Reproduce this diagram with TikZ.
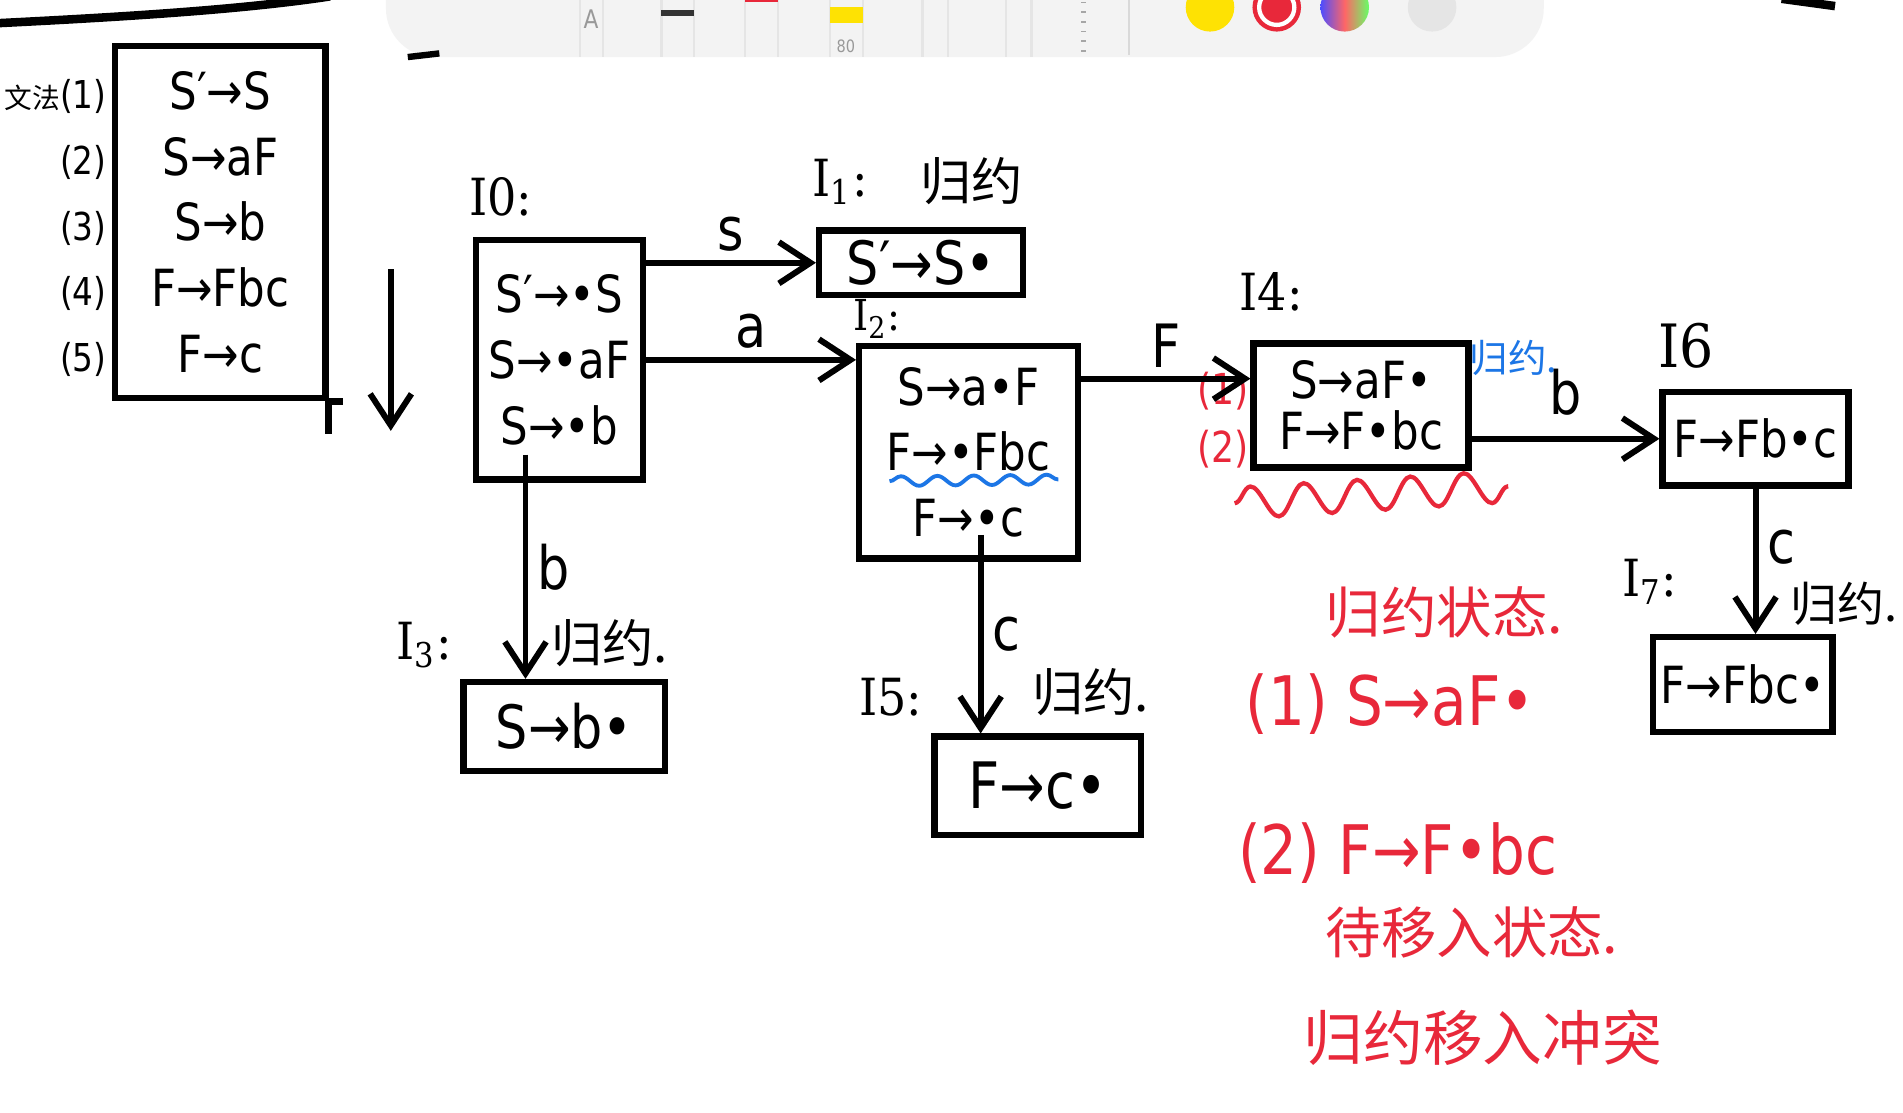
\documentclass[tikz,border=0pt]{standalone}
\usepackage{fontspec}
\setmainfont{DejaVu Sans}[FakeStretch=0.85]
\newfontfamily\cjk{Noto Sans CJK SC}
\newfontfamily\lblfont{DejaVu Serif}[FakeStretch=0.9]
\usetikzlibrary{arrows.meta, positioning, decorations.pathmorphing}
\definecolor{inkred}{RGB}{232,40,58}
\definecolor{inkblue}{RGB}{28,118,230}
\definecolor{barbg}{RGB}{243,243,243}

\begin{document}
\begin{tikzpicture}[x=0.01cm, y=-0.01cm,
    state/.style={draw, line width=1.5pt, inner sep=0pt, align=center, font=\fontsize{12}{15.4}\selectfont},
    lbl/.style={inner sep=1pt, font=\lblfont\fontsize{12}{14}\selectfont},
    note/.style={inner sep=1pt, font=\cjk\fontsize{12}{14}\selectfont},
    redf/.style={inner sep=1pt, text=inkred, font=\fontsize{16}{18}\selectfont},
    sym/.style={inner sep=2pt, font=\fontsize{14}{16}\selectfont},
    arrow/.style={-{Straight Barb[length=2.6mm, width=3.4mm]}, line width=1.4pt}]

    \useasboundingbox (0,0) rectangle (1568,917);
    \fill[white] (0,0) rectangle (1568,917);

    % toolbar of the drawing app
    \fill[barbg, rounded corners=4mm] (318,-40) rectangle (1272,47);
    \foreach \px in {478,497,545,572,614,641,684,711,760,781,829,850}
      \draw[black!10, line width=0.6pt] (\px,-5) -- (\px,47);
    \draw[black!15] (930,-5) -- (930,45);
    \fill[black!80] (545,8) rectangle (572,13);
    \fill[inkred] (614,-5) rectangle (641,2);
    \fill[yellow!85!orange] (684,6) rectangle (711,19);
    \node[font=\fontsize{6}{7}\selectfont, text=black!40] (penA) at (487,16) {A};
    \node[font=\fontsize{4}{5}\selectfont, text=black!40] (pen80) at (697,38) {80};
    \foreach \ty in {2,10,...,42}
      \draw[black!35] (891,\ty) -- (895,\ty);
    \fill[yellow!85!orange] (997,6) circle (2mm);
    \fill[inkred] (1052,6) circle (2mm);
    \draw[white, line width=1pt] (1052,6) circle (1.45mm);
    \shade[left color=blue!70, right color=green!60, middle color=red!60] (1108,6) circle (2mm);
    \fill[black!10] (1180,6) circle (2mm);

    % strokes cut by the page edge
    \draw[line width=2pt] (0,19) .. controls (100,14) and (200,8) .. (272,-3);
    \draw[line width=2pt] (1468,-1) -- (1512,5);
    \draw[line width=1.5pt] (336,47) -- (362,44);

    % grammar
    \node[state, minimum width=1.73cm, minimum height=2.9cm] (gram) at (181.5,183) {S′→S\\S→aF\\S→b\\F→Fbc\\F→c};
    \node[anchor=east, align=right, inner sep=0pt, font=\fontsize{9}{15.4}\selectfont] (nums) at ([xshift=-0.4mm,yshift=-0.5mm]gram.west)
      {{\cjk\fontsize{6.5}{8}\selectfont 文法}(1)\\(2)\\(3)\\(4)\\(5)};
    \draw[line width=1.5pt] (gram.south east) -- ([yshift=-2.7mm]gram.south east);
    \draw[line width=1.5pt] (gram.south east) -- ([xshift=1.2mm]gram.south east);

    \coordinate (dtop) at (322,222);
    \coordinate (dbot) at (322,355);
    \draw[arrow] (dtop) -- (dbot);

    % item sets
    \node[state, minimum width=1.38cm, minimum height=1.97cm] (I0) at (461,296.5) {S′→•S\\S→•aF\\S→•b};
    \node[state, minimum width=1.68cm, minimum height=0.53cm, font=\fontsize{14}{16}\selectfont] (I1) at (759,216.5) {S′→S•};
    \node[state, minimum width=1.8cm, minimum height=1.75cm] (I2) at (798,372.5) {S→a•F\\F→•Fbc\\F→•c};
    \node[state, minimum width=1.66cm, minimum height=0.73cm, font=\fontsize{14}{16}\selectfont] (I3) at (465,598.5) {S→b•};
    \node[state, minimum width=1.77cm, minimum height=1.02cm] (I4) at (1121.5,334) {S→aF•\\[-3.4pt]F→F•bc};
    \node[state, minimum width=1.7cm, minimum height=0.81cm, font=\fontsize{15}{17}\selectfont] (I5) at (855,647.5) {F→c•};
    \node[state, minimum width=1.53cm, minimum height=0.77cm, font=\fontsize{12}{15}\selectfont] (I6) at (1446.5,361.5) {F→Fb•c};
    \node[state, minimum width=1.48cm, minimum height=0.78cm, font=\fontsize{12}{15}\selectfont] (I7) at (1436,564) {F→Fbc•};

    \node[lbl, anchor=south west] (t0) at ([xshift=-0.7mm, yshift=1.3mm]I0.north west) {I0:};
    \node[lbl, anchor=south west] (t1) at ([xshift=-0.7mm, yshift=1.5mm]I1.north west) {I\textsubscript{1}:};
    \node[note, right=3.5mm of t1] (r1) {归约};
    \node[lbl, anchor=south west, inner sep=0pt, font=\lblfont\fontsize{10}{12}\selectfont] (t2) at ([xshift=-0.3mm, yshift=0.3mm]I2.north west) {I\textsubscript{2}:};
    \node[lbl, anchor=south east] (t3) at ([xshift=-0.3mm, yshift=0.5mm]I3.north west) {I\textsubscript{3}:};
    \node[note, anchor=south east] (r3) at ([xshift=0.4mm, yshift=0.6mm]I3.north east) {归约.};
    \node[lbl, anchor=south west] (t4) at ([xshift=-1.3mm, yshift=2mm]I4.north west) {I4:};
    \node[note, text=inkblue, anchor=west, font=\cjk\fontsize{9}{10}\selectfont] (r4) at ([xshift=-0.6mm, yshift=-1.5mm]I4.north east) {归约.};
    \node[redf, anchor=east, font=\fontsize{10}{12}\selectfont] (m1) at ([xshift=0.3mm, yshift=1.2mm]I4.west) {(1)};
    \node[redf, anchor=east, font=\fontsize{10}{12}\selectfont] (m2) at ([xshift=0.3mm, yshift=-3.6mm]I4.west) {(2)};
    \node[lbl, anchor=south east] (t5) at ([xshift=-0.3mm, yshift=1mm]I5.north west) {I5:};
    \node[note, anchor=south east] (r5) at ([xshift=0.8mm, yshift=1mm]I5.north east) {归约.};
    \node[lbl, anchor=south west, font=\lblfont\fontsize{14}{16}\selectfont] (t6) at ([xshift=-0.5mm, yshift=1.3mm]I6.north west) {I6};
    \node[lbl, anchor=south west] (t7) at ([xshift=-2.7mm, yshift=2mm]I7.north west) {I\textsubscript{7}:};
    \node[note, anchor=south west, font=\cjk\fontsize{11}{13}\selectfont] (r7) at ([xshift=11.2mm, yshift=0.3mm]I7.north west) {归约.};

    % transitions
    \draw[arrow] (I0.east |- I1.west) -- (I1.west) node[midway, above, sym] (ls) {s};
    \draw[arrow] (I0.east) -- (I0.east -| I2.west) node[midway, above, sym] (la) {a};
    \coordinate (fin) at ([yshift=2.2mm]I4.west);
    \draw[arrow] (I2.east |- fin) -- (fin) node[midway, above, sym] (lF) {F};
    \draw[arrow] (I4.east |- I6.west) -- (I6.west) node[midway, above=1mm, sym] (lb) {b};
    \draw[arrow] (I6.south) -- (I6.south |- I7.north) node[pos=0.4, right, sym] (lc) {c};
    \coordinate (b0) at ([xshift=-2.8mm, yshift=2.3mm]I0.south);
    \draw[arrow] (b0) -- (b0 |- I3.north) node[midway, right, sym] (lb3) {b};
    \coordinate (c0) at ([xshift=1mm, yshift=2.2mm]I2.south);
    \draw[arrow] (c0) -- (c0 |- I5.north) node[midway, right, sym] (lc5) {c};

    % marks
    \draw[inkblue, line width=0.9pt, decorate, decoration={snake, amplitude=0.4mm, segment length=3mm}]
      ([xshift=-6.5mm, yshift=-2.4mm]I2.center) -- ([xshift=7.4mm, yshift=-2.25mm]I2.center);
    \draw[inkred, line width=1pt, decorate, decoration={snake, amplitude=1.3mm, segment length=4.4mm}]
      ([xshift=-1.3mm, yshift=-2.7mm]I4.south west) -- ([xshift=3mm, yshift=-1.3mm]I4.south east);

    % notes
    \node[note, text=inkred, anchor=west, font=\cjk\fontsize{13}{15}\selectfont] (n1) at (1088,505) {归约状态.};
    \node[redf, anchor=west] (n2) at (1022,580) {(1) S→aF•};
    \node[redf, anchor=west] (n3) at (1016,703) {(2) F→F•bc};
    \node[note, text=inkred, anchor=west, font=\cjk\fontsize{13}{15}\selectfont] (n4) at (1088,768) {待移入状态.};
    \node[note, text=inkred, anchor=west, font=\cjk\fontsize{14}{16}\selectfont] (n5) at (1070,855) {归约移入冲突};
\end{tikzpicture}
\end{document}
